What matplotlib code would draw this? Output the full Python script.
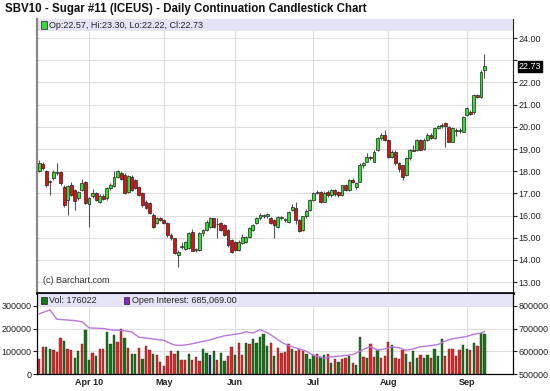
import numpy as np
import pandas as pd
import matplotlib.pyplot as plt
from matplotlib.patches import Rectangle

# Daily candles, Sugar #11 (Oct 10 contract), Mar 12 - Sep 9 2010
opens = [18.00, 18.33, 18.00, 17.50, 17.68, 17.90, 17.95, 17.31, 16.71, 17.38,
         17.16, 16.78, 17.16, 17.53, 16.50, 16.86, 17.00, 16.63, 16.90, 16.78,
         17.23, 17.34, 17.76, 17.94, 17.83, 17.08, 17.76, 17.60, 17.31, 17.01,
         16.60, 16.56, 16.03, 15.65, 15.88, 15.80, 15.65, 15.13, 14.98, 14.23,
         14.60, 14.50, 14.53, 15.27, 14.45, 14.45, 15.20, 15.35, 15.50, 15.87,
         15.60, 15.65, 15.57, 15.35, 14.90, 14.80, 14.45, 14.75, 14.82, 15.05,
         15.35, 15.65, 15.87, 15.98, 15.98, 15.87, 15.80, 15.50, 15.88, 15.80,
         15.72, 16.25, 16.32, 15.80, 15.35, 15.98, 16.25, 16.70, 17.00, 17.07,
         16.62, 17.07, 16.93, 17.15, 17.08, 16.93, 17.38, 17.15, 17.60, 17.30,
         17.53, 18.28, 18.43, 18.66, 18.43, 18.96, 19.48, 19.63, 19.41, 18.66,
         18.88, 18.35, 18.28, 17.83, 18.58, 18.96, 18.96, 19.41, 19.00, 19.41,
         19.63, 19.48, 19.93, 20.03, 20.15, 20.01, 19.33, 19.86, 19.80, 19.78,
         20.53, 20.68, 20.68, 21.43, 21.36, 22.57]
highs = [18.50, 18.40, 18.05, 17.60, 18.05, 18.36, 18.00, 17.40, 17.40, 17.50,
         17.20, 17.10, 17.65, 17.55, 16.85, 17.20, 17.05, 16.95, 16.95, 17.30,
         17.45, 18.00, 18.06, 18.00, 17.90, 17.85, 17.85, 17.65, 17.35, 17.05,
         16.70, 16.60, 16.10, 15.95, 15.95, 15.85, 15.70, 15.20, 15.00, 14.45,
         14.80, 14.85, 15.25, 15.40, 14.55, 15.25, 15.40, 15.80, 15.95, 15.90,
         15.90, 15.70, 15.60, 15.40, 14.95, 14.85, 14.90, 15.15, 15.10, 15.50,
         15.60, 15.95, 16.10, 16.05, 16.10, 15.95, 15.85, 16.00, 16.00, 15.90,
         16.20, 16.50, 16.62, 15.85, 16.00, 16.30, 16.75, 17.05, 17.15, 17.10,
         17.10, 17.15, 17.20, 17.20, 17.12, 17.40, 17.42, 17.65, 17.70, 17.50,
         18.35, 18.40, 18.80, 18.70, 18.95, 19.55, 19.70, 19.86, 19.45, 18.95,
         18.95, 18.40, 18.30, 18.65, 19.00, 19.20, 19.45, 19.45, 19.50, 19.70,
         19.70, 19.98, 20.10, 20.15, 20.20, 20.05, 20.00, 19.95, 19.95, 20.50,
         20.90, 20.75, 21.50, 21.50, 22.55, 23.30]
lows = [17.95, 18.05, 17.28, 16.93, 17.60, 17.85, 17.40, 16.40, 16.03, 16.90,
        16.26, 16.70, 17.10, 16.50, 15.50, 16.80, 16.65, 16.55, 16.70, 16.70,
        17.15, 17.30, 17.70, 17.60, 16.95, 17.00, 17.10, 17.20, 16.90, 16.40,
        16.30, 16.05, 15.45, 15.60, 15.75, 15.60, 15.05, 14.90, 14.25, 13.70,
        14.50, 14.45, 14.50, 14.40, 14.35, 14.40, 15.10, 15.30, 15.45, 15.45,
        14.97, 15.30, 15.10, 14.60, 14.30, 14.40, 14.40, 14.70, 14.75, 15.00,
        15.30, 15.60, 15.80, 15.90, 15.90, 15.60, 14.97, 15.45, 15.80, 15.70,
        15.65, 16.20, 15.60, 15.25, 15.30, 15.90, 16.20, 16.65, 16.95, 16.55,
        16.60, 16.85, 16.85, 16.90, 16.85, 16.90, 17.10, 17.10, 17.45, 17.20,
        17.50, 18.15, 18.40, 18.50, 18.40, 18.90, 19.40, 19.35, 18.60, 18.60,
        18.30, 17.95, 17.60, 17.80, 18.50, 18.90, 18.90, 18.95, 18.95, 19.35,
        19.45, 19.45, 19.90, 19.95, 19.10, 19.30, 19.30, 19.60, 19.70, 19.75,
        20.50, 20.55, 20.60, 21.30, 21.30, 22.22]
closes = [18.38, 18.13, 17.38, 17.53, 17.98, 17.98, 17.46, 16.48, 17.35, 16.93,
          16.66, 17.08, 17.46, 16.56, 16.78, 17.00, 16.70, 16.89, 16.76, 17.23,
          17.38, 17.73, 18.03, 17.64, 17.00, 17.79, 17.16, 17.25, 16.93, 16.48,
          16.35, 16.11, 15.50, 15.88, 15.80, 15.65, 15.13, 14.98, 14.30, 14.38,
          14.62, 14.82, 15.20, 14.42, 14.50, 15.20, 15.35, 15.72, 15.87, 15.50,
          15.60, 15.35, 15.12, 14.67, 14.37, 14.45, 14.82, 15.05, 15.05, 15.42,
          15.57, 15.87, 16.02, 15.98, 16.05, 15.65, 15.57, 15.95, 15.95, 15.80,
          16.17, 16.40, 15.80, 15.30, 15.98, 16.22, 16.70, 17.00, 17.07, 16.62,
          17.00, 16.93, 17.15, 16.95, 16.93, 17.38, 17.15, 17.60, 17.52, 17.45,
          18.28, 18.35, 18.66, 18.58, 18.88, 19.48, 19.63, 19.41, 18.66, 18.88,
          18.36, 18.10, 17.75, 18.58, 18.96, 18.90, 19.41, 18.96, 19.41, 19.63,
          19.48, 19.93, 20.03, 20.10, 20.03, 19.33, 19.93, 19.80, 19.86, 20.46,
          20.83, 20.60, 21.43, 21.36, 22.48, 22.73]

# volume in thousands
volume = [65, 118, 118, 112, 105, 95, 160, 147, 108, 105,
          70, 100, 133, 195, 62, 92, 80, 110, 110, 183,
          132, 173, 142, 200, 157, 115, 86, 86, 115, 66,
          122, 105, 88, 82, 52, 35, 78, 103, 88, 102,
          63, 63, 87, 60, 75, 57, 112, 92, 85, 103,
          60, 94, 57, 80, 118, 82, 135, 82, 138, 133,
          152, 137, 163, 178, 122, 135, 78, 115, 93, 95,
          133, 108, 102, 110, 103, 87, 65, 85, 87, 75,
          85, 87, 48, 67, 55, 67, 70, 80, 50, 38,
          165, 77, 72, 132, 77, 107, 72, 80, 140, 128,
          72, 68, 107, 90, 52, 102, 72, 85, 72, 85,
          72, 108, 78, 155, 80, 108, 108, 80, 107, 128,
          110, 105, 135, 125, 180, 176.022]
vol_dir = list("rrggrrrgrr" "ggrggrgrrg" "ggrrgrggrg" "rrgrrrrrrg"
               "rrgrrrggbg" "rggrrgrrgr" "gggggrgrrr" "rgrrrgggrg"
               "grgrgrrgrg" "grgrrgrrrg" "rrrgrggrgg" "rgggrrrrrg" "grgrgg")

# open interest (thousands)
oi_idx = [0, 3, 5, 10, 12, 14, 18, 20, 24, 26, 28, 30, 35, 38, 40, 42, 45, 48,
          50, 52, 55, 57, 58, 60, 62, 64, 66, 68, 70, 72, 75, 77, 80, 82, 85,
          88, 90, 92, 93, 95, 97, 99, 101, 103, 105, 107, 110, 112, 114, 116,
          118, 120, 122, 124, 125]
oi = [765, 782, 741, 735, 730, 703, 700, 695, 690, 685, 662, 658, 648, 627,
      626, 630, 640, 650, 660, 668, 675, 680, 686, 680, 695, 682, 662, 640,
      625, 615, 600, 582, 570, 575, 580, 585, 600, 615, 620, 605, 610, 620,
      615, 605, 610, 620, 625, 630, 645, 655, 660, 665, 675, 680, 687]

holidays = ["2010-04-02", "2010-05-31", "2010-07-05", "2010-09-06"]
dates = pd.bdate_range("2010-03-12", "2010-09-09")
dates = dates[~dates.isin(pd.to_datetime(holidays))]
x = np.arange(len(closes))

W, H = 550, 391
fig = plt.figure(figsize=(W / 100, H / 100), dpi=100)
plt.rcParams['font.family'] = ['Liberation Sans', 'DejaVu Sans']

ax = fig.add_axes([37 / W, 1 - 293 / H, 476 / W, 274 / H])
axv = fig.add_axes([37 / W, 1 - 374 / H, 476 / W, 80 / H])

# month gridlines
month_pos = [i for i in range(1, len(dates)) if dates[i].month != dates[i - 1].month]
month_lab = ["Apr 10", "May", "Jun", "Jul", "Aug", "Sep"]

o = np.array(opens); c = np.array(closes)
hi = np.array(highs); lo = np.array(lows)
up = c >= o
ax.vlines(x, lo, hi, color="#555555", lw=0.8, zorder=2)
body = np.maximum(np.abs(c - o), 0.04)
ax.bar(x, body, bottom=np.minimum(o, c), width=0.8,
       color=np.where(up, "#33dd33", "#dd1111"), edgecolor="#222222",
       linewidth=0.5, zorder=3)

ax.set_xlim(-0.6, 133)
ax.set_ylim(12.51, 24.86)
ax.set_yticks(np.arange(13, 25))
ax.yaxis.tick_right()
# 23.00 sits under the last-price box
ax.set_yticklabels(["" if v == 23 else f"{v:.2f}" for v in range(13, 25)])
ax.tick_params(axis="y", labelsize=6.5, length=3, colors="#222222", pad=1)
ax.set_xticks(month_pos)
ax.tick_params(axis="x", length=0, labelbottom=False)
ax.grid(True, color="#dddddd", lw=0.8, zorder=0)
ax.set_axisbelow(True)
ax.spines["top"].set_visible(False)
ax.spines["left"].set_color("#888888")
ax.spines["left"].set_linewidth(1.6)
ax.spines["bottom"].set_color("#111111")
ax.spines["bottom"].set_linewidth(2)
ax.spines["right"].set_color("#222222")

ax.add_patch(Rectangle((0, 1 - 12 / 274), 1, 12 / 274, transform=ax.transAxes,
                       facecolor="#e4e4f6", edgecolor="none", zorder=1))
ax.add_patch(Rectangle((0.008, 1 - 9.5 / 274), 0.012, 7 / 274, transform=ax.transAxes,
                       facecolor="#33dd33", edgecolor="#222222", lw=0.5, zorder=4))
ax.text(0.025, 1 - 6 / 274, f"Op:{opens[-1]:.2f}, Hi:{highs[-1]:.2f}, Lo:{lows[-1]:.2f}, Cl:{closes[-1]:.2f}",
        transform=ax.transAxes, fontsize=6.5, va="center", color="#222222", zorder=4)
ax.text(0.012, 0.035, "(c) Barchart.com", transform=ax.transAxes, fontsize=6.5,
        color="#333333")
ax.text(1.012, closes[-1], f"{closes[-1]:.2f}", transform=ax.get_yaxis_transform(),
        fontsize=6.5, color="white", va="center", ha="left",
        bbox=dict(boxstyle="square,pad=0.1", fc="black", ec="black"))

fig.text(5 / W, 1 - 9 / H, "SBV10 - Sugar #11 (ICEUS) - Daily Continuation Candlestick Chart",
         fontsize=8.3, fontweight="bold", va="center", color="#111111")

# volume panel
vcol = {"g": "#117711", "r": "#ee2222", "b": "#222288"}
axv.bar(x, np.array(volume) * 1000, width=0.65,
        color=[vcol[d] for d in vol_dir], edgecolor="#333333", linewidth=0.3, zorder=3)
axv.set_xlim(-0.6, 133)
axv.set_ylim(0, 352000)
axv.set_yticks([0, 100000, 200000, 300000])
axv.tick_params(axis="y", labelsize=6.5, length=3, colors="#222222", pad=1)
axv.set_xticks(month_pos)
axv.set_xticklabels(month_lab, fontsize=6.5, fontweight="bold")
axv.tick_params(axis="x", length=0, pad=3, colors="#222222")
axv.grid(True, color="#dddddd", lw=0.8, zorder=0)
axv.set_axisbelow(True)
axv.spines["top"].set_visible(False)

axo = axv.twinx()
axo.plot(oi_idx, np.array(oi) * 1000, color="#bb77dd", lw=1, zorder=4)
axo.set_ylim(500000, 852000)
axo.set_yticks([500000, 600000, 700000, 800000])
axo.tick_params(axis="y", labelsize=6.5, length=3, colors="#222222", pad=1)
axo.spines["top"].set_visible(False)

axv.add_patch(Rectangle((0, 1 - 12 / 80), 1, 12 / 80, transform=axv.transAxes,
                        facecolor="#e4e4f6", edgecolor="none", zorder=1))
axo.add_patch(Rectangle((0.008, 1 - 10 / 80), 0.012, 7 / 80, transform=axv.transAxes,
                        facecolor="#117711", edgecolor="#222222", lw=0.5, zorder=5))
axo.text(0.025, 1 - 6.5 / 80, "Vol: 176022", transform=axv.transAxes, fontsize=6.5,
         va="center", color="#222222", zorder=5)
axo.add_patch(Rectangle((0.182, 1 - 10 / 80), 0.012, 7 / 80, transform=axv.transAxes,
                        facecolor="#8822cc", edgecolor="#222222", lw=0.5, zorder=5))
axo.text(0.2, 1 - 6.5 / 80, "Open Interest: 685,069.00", transform=axv.transAxes,
         fontsize=6.5, va="center", color="#222222", zorder=5)

fig.savefig("out.png", dpi=100)
